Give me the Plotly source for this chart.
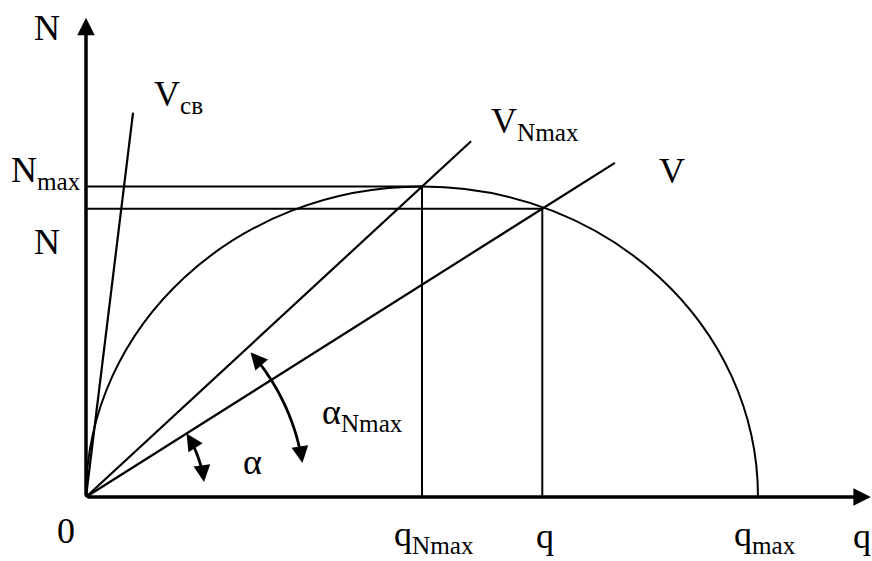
import numpy as np
import plotly.graph_objects as go

W, H = 872, 561
S = 6.72                 # pixels per unit, equal on both axes so angles stay true
X0_PX, Y0_PX = 86, 497   # where the origin sits on the canvas

# --- diagram values (q: density, N: flow) ---
q_max = 100.0
q_Nmax = 50.0
N_max = 46.2
q_cur = 67.9
N_cur = 42.9
q_axis_end = 116.8
N_axis_end = 71.3

# speed rays from the origin: slope = speed, drawn up to ray_q_end
ray_labels = ["V<sub>св</sub>", "V<sub>Nmax</sub>", "V"]
ray_speed = [8.17, N_max / q_Nmax, N_cur / q_cur]
ray_q_end = [7.0, 57.3, 78.7]

# angle markers: radius and start/end angles (degrees)
arc_labels = ["α", "α<sub>Nmax</sub>"]
arc_radius = [17.7, 32.6]
arc_from_deg = [7.2, 8.9]
arc_to_deg = [32.3, 41.3]

INK = "black"
SERIF = "Liberation Serif"
FS = 36

fig = go.Figure()

# helper lines to the axes
fig.add_trace(go.Scatter(x=[0, q_Nmax, q_Nmax], y=[N_max, N_max, 0], mode="lines",
                         line=dict(color=INK, width=2), hoverinfo="skip"))
fig.add_trace(go.Scatter(x=[0, q_cur, q_cur], y=[N_cur, N_cur, 0], mode="lines",
                         line=dict(color=INK, width=2), hoverinfo="skip"))

# speed rays
for v, qe in zip(ray_speed, ray_q_end):
    fig.add_trace(go.Scatter(x=[0, qe], y=[0, v * qe], mode="lines",
                             line=dict(color=INK, width=2.2), hoverinfo="skip"))

shapes = []
# fundamental diagram: half ellipse through 0, (q_Nmax, N_max), q_max
k = 0.5523
a_r = q_max - q_Nmax
path = (f"M 0,0 C 0,{k * N_max} {q_Nmax - k * q_Nmax},{N_max} {q_Nmax},{N_max} "
        f"C {q_Nmax + k * a_r},{N_max} {q_max},{k * N_max} {q_max},0")
shapes.append(dict(type="path", path=path, xref="x", yref="y",
                   line=dict(color=INK, width=2)))

annotations = []

# angle arcs with double arrowheads
for r, a0, a1 in zip(arc_radius, arc_from_deg, arc_to_deg):
    t = np.radians(np.linspace(a0 + 2, a1 - 2, 40))
    pts = " L ".join(f"{r * np.cos(v):.4f},{r * np.sin(v):.4f}" for v in t)
    shapes.append(dict(type="path", path="M " + pts, xref="x", yref="y",
                       line=dict(color=INK, width=2.8)))
    L = 16
    for ang, sgn in ((a1, 1), (a0, -1)):
        th = np.radians(ang)
        annotations.append(dict(
            x=r * np.cos(th), y=r * np.sin(th), xref="x", yref="y",
            ax=sgn * L * np.sin(th), ay=sgn * L * np.cos(th),
            text="", showarrow=True, arrowhead=2, arrowsize=1.2,
            arrowwidth=2.8, arrowcolor=INK))

# axes with arrowheads
annotations.append(dict(x=q_axis_end, y=0, ax=0, ay=0, xref="x", yref="y",
                        axref="x", ayref="y", text="", showarrow=True,
                        arrowhead=2, arrowsize=1.0, arrowwidth=3.5, arrowcolor=INK))
annotations.append(dict(x=0, y=N_axis_end, ax=0, ay=0, xref="x", yref="y",
                        axref="x", ayref="y", text="", showarrow=True,
                        arrowhead=2, arrowsize=1.0, arrowwidth=3.5, arrowcolor=INK))


def label(text, px, py, xanchor="left"):
    annotations.append(dict(text=text, x=px / W, y=1 - py / H, xref="paper",
                            yref="paper", xanchor=xanchor, yanchor="middle",
                            showarrow=False,
                            font=dict(family=SERIF, size=FS, color=INK)))


label("N", 47, 28, "center")
label(ray_labels[0], 152, 97)
label(ray_labels[1], 489, 123)
label(ray_labels[2], 672, 171, "center")
label("N<sub>max</sub>", 9, 172)
label("N", 47, 242, "center")
label(arc_labels[1], 320, 414)
label(arc_labels[0], 252, 462, "center")
label("0", 66, 531, "center")
label("q<sub>Nmax</sub>", 392, 536)
label("q", 545, 536, "center")
label("q<sub>max</sub>", 732, 536)
label("q", 851, 536)

fig.update_layout(
    width=W, height=H,
    margin=dict(l=0, r=0, t=0, b=0),
    font=dict(family=SERIF, size=FS, color=INK),
    paper_bgcolor="white", plot_bgcolor="white",
    showlegend=False,
    xaxis=dict(visible=False, range=[-X0_PX / S, (W - X0_PX) / S], fixedrange=True),
    yaxis=dict(visible=False, range=[-(H - Y0_PX) / S, Y0_PX / S], fixedrange=True),
    shapes=shapes,
    annotations=annotations,
)

fig.write_html("out.html", config={"displayModeBar": False})
